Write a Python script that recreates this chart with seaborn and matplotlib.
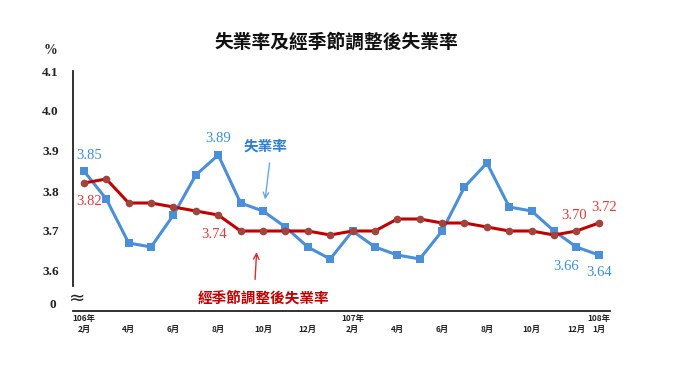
import numpy as np
import pandas as pd
import matplotlib
matplotlib.use("Agg")
import matplotlib.pyplot as plt
import seaborn as sns

# ---- data ----
months = ["106/2", "106/3", "106/4", "106/5", "106/6", "106/7", "106/8", "106/9",
          "106/10", "106/11", "106/12", "107/1", "107/2", "107/3", "107/4", "107/5",
          "107/6", "107/7", "107/8", "107/9", "107/10", "107/11", "107/12", "108/1"]
unemp = [3.85, 3.78, 3.67, 3.66, 3.74, 3.84, 3.89, 3.77, 3.75, 3.71, 3.66, 3.63,
         3.70, 3.66, 3.64, 3.63, 3.70, 3.81, 3.87, 3.76, 3.75, 3.70, 3.66, 3.64]
adjusted = [3.82, 3.83, 3.77, 3.77, 3.76, 3.75, 3.74, 3.70, 3.70, 3.70, 3.70, 3.69,
            3.70, 3.70, 3.73, 3.73, 3.72, 3.72, 3.71, 3.70, 3.70, 3.69, 3.70, 3.72]
month_labels = {0: "2月", 2: "4月", 4: "6月", 6: "8月", 8: "10月", 10: "12月",
                12: "2月", 14: "4月", 16: "6月", 18: "8月", 20: "10月", 22: "12月", 23: "1月"}
year_labels = {0: "106年", 12: "107年", 23: "108年"}
yticks = [3.6, 3.7, 3.8, 3.9, 4.0, 4.1]

title = "失業率及經季節調整後失業率"
name_unemp = "失業率"
name_adj = "經季節調整後失業率"

sns.set_style("white")
plt.rcParams['font.family'] = ['Noto Sans CJK TC', 'DejaVu Sans']
SERIF = ['Liberation Serif', 'DejaVu Serif']

BLUE = "#4a8fd8"
BLUE_TXT = "#3d8bd4"
RED = "#c00000"
RED_MK = "#a0443c"
RED_TXT = "#e03a3a"

df = pd.DataFrame({"pos": np.arange(len(months)), "month": months,
                   "unemp": unemp, "adjusted": adjusted})

fig = plt.figure(figsize=(6.8, 3.83), dpi=100)
ax = fig.add_axes([72.7 / 680, 1 - 311 / 383, (610 - 72.7) / 680, 240 / 383])

sns.lineplot(data=df, x="pos", y="unemp", ax=ax, color=BLUE, lw=2.2,
             marker="s", markersize=6, markeredgewidth=0, markerfacecolor=BLUE, zorder=3)
sns.lineplot(data=df, x="pos", y="adjusted", ax=ax, color=RED, lw=2.2,
             marker="o", markersize=5.5, markeredgewidth=0, markerfacecolor=RED_MK, zorder=4)

ax.set_xlim(-0.5, len(months) - 0.5)
ax.set_ylim(3.5, 4.1)
ax.set_xlabel("")
ax.set_ylabel("")

for s in ["top", "right"]:
    ax.spines[s].set_visible(False)
for s in ["left", "bottom"]:
    ax.spines[s].set_color("#222222")
    ax.spines[s].set_linewidth(1.3)
ax.spines["left"].set_bounds(3.562, 4.1)

ax.set_yticks(yticks)
ax.set_yticklabels([f"{v:.1f}" for v in yticks], family=SERIF, fontsize=9.5,
                   fontweight="bold", color="#222222")
ax.tick_params(axis="y", direction="in", length=4, width=1.2, color="#222222", pad=10)
ax.set_xticks(np.arange(-0.5, len(months), 0.5))
ax.set_xticklabels([])
ax.tick_params(axis="x", direction="in", length=3, width=1.2, color="#222222")

# broken axis marks
ax.text(-0.32, 3.532, "≈", fontsize=14, ha="center", va="center", color="#222222",
        family=['DejaVu Sans'])
ax.text(-0.03, 3.514, "0", transform=ax.get_yaxis_transform(), ha="right", va="center",
        family=SERIF, fontsize=9.5, fontweight="bold", color="#222222")
ax.text(-0.042, 4.15, "%", transform=ax.get_yaxis_transform(), ha="center", va="center",
        family=SERIF, fontsize=10, fontweight="bold", color="#222222", clip_on=False)

# x labels
for p, lab in month_labels.items():
    ax.text(p, -0.075, lab, transform=ax.get_xaxis_transform(), ha="center", va="center",
            fontsize=6, fontweight="bold", color="#222222")
for p, lab in year_labels.items():
    ax.text(p, -0.03, lab, transform=ax.get_xaxis_transform(), ha="center", va="center",
            fontsize=6, fontweight="bold", color="#222222")

# value labels
def vlabel(i, series, text_color, dx, dy):
    ax.annotate(f"{series[i]:.2f}", (i, series[i]), xytext=(dx, dy),
                textcoords="offset pixels", ha="center", va="center",
                family=SERIF, fontsize=10.5, color=text_color)

vlabel(0, unemp, BLUE_TXT, 5, 15)
vlabel(0, adjusted, RED_TXT, 5, -19)
vlabel(6, unemp, BLUE_TXT, 0, 16)
vlabel(6, adjusted, RED_TXT, -4, -20)
vlabel(22, adjusted, RED_TXT, -2, 15)
vlabel(23, adjusted, RED_TXT, 5, 15)
vlabel(22, unemp, BLUE_TXT, -10, -20)
vlabel(23, unemp, BLUE_TXT, 0, -18)

# series name labels with arrows
ax.text(8.13, 3.914, name_unemp, ha="center", va="center", fontsize=10.5,
        fontweight="bold", color="#2f7fd0")
ax.annotate("", xy=(8.08, 3.772), xytext=(8.31, 3.877),
            arrowprops=dict(arrowstyle="->", color="#6aa6e4", lw=1.0))
ax.text(8.04, 3.534, name_adj, ha="center", va="center", fontsize=10.5,
        fontweight="bold", color="#c00000")
ax.annotate("", xy=(7.72, 3.654), xytext=(7.64, 3.572),
            arrowprops=dict(arrowstyle="->", color="#d23030", lw=1.0))

fig.text(336 / 680, 1 - 42 / 383, title, ha="center", va="center", fontsize=13.5,
         fontweight="bold", color="#111111")

fig.savefig("out.png", dpi=100)
